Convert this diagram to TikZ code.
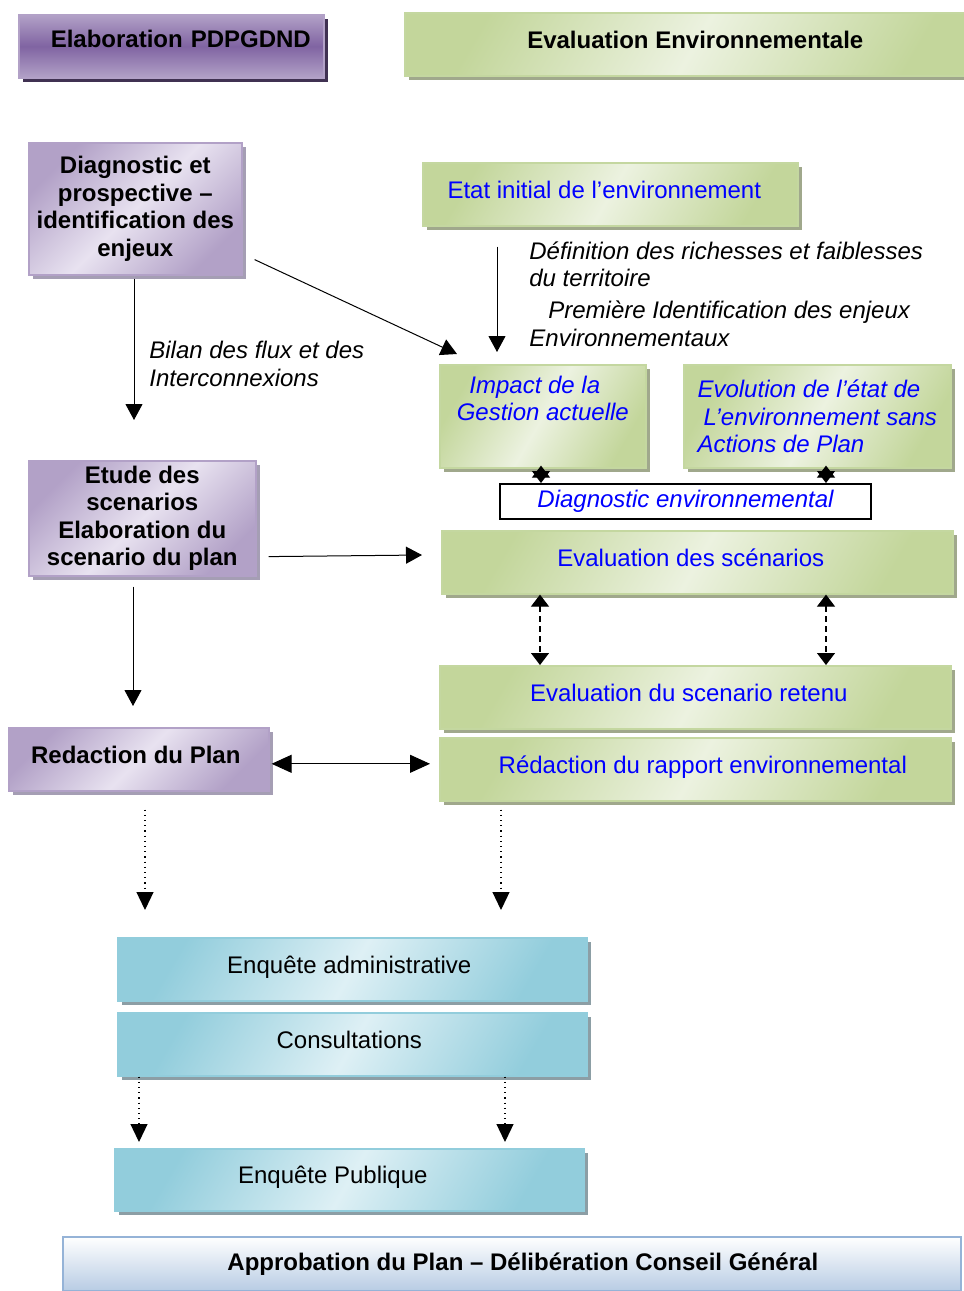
\documentclass[tikz,border=0pt]{standalone}
\usepackage{fontspec}
\setmainfont{Liberation Sans}
\usetikzlibrary{arrows.meta,shadows}

\definecolor{gdark}{RGB}{195,214,155}
\definecolor{glight}{RGB}{236,242,224}
\definecolor{gborder}{RGB}{196,215,160}
\definecolor{gshade}{RGB}{160,168,140}
\definecolor{pdark}{RGB}{128,100,162}
\definecolor{plight}{RGB}{178,161,199}
\definecolor{ppale}{RGB}{232,226,240}
\definecolor{pshade}{RGB}{64,49,82}
\definecolor{pgrey}{RGB}{165,158,180}
\definecolor{bdark}{RGB}{146,205,220}
\definecolor{blight}{RGB}{222,240,245}
\definecolor{bshade}{RGB}{140,158,165}
\definecolor{abord}{RGB}{149,179,215}
\definecolor{abot}{RGB}{184,204,228}
\definecolor{fblue}{RGB}{0,0,255}

\tikzset{
  boxbase/.style={anchor=north west, inner sep=0pt, align=center,
                  font=\fontsize{12}{13.8}\selectfont},
  oneline/.style={text height=8.8pt, text depth=5pt},
  envbox/.style={boxbase, draw=gborder, line width=0.8pt,
                 top color=gdark, bottom color=gdark, middle color=glight, shading angle=60,
                 drop shadow={shadow xshift=2pt, shadow yshift=-2pt, fill=gshade, opacity=1},
                 text=fblue},
  titlebox/.style={boxbase, draw=plight, line width=0.8pt,
                   top color=plight, bottom color=plight, middle color=pdark,
                   drop shadow={shadow xshift=2pt, shadow yshift=-2pt, fill=pshade, opacity=1},
                   font=\fontsize{12}{13.8}\selectfont\bfseries},
  planbox/.style={boxbase, draw=plight, line width=0.8pt,
                  top color=plight, bottom color=plight, middle color=ppale, shading angle=45,
                  drop shadow={shadow xshift=2pt, shadow yshift=-2pt, fill=pgrey, opacity=1},
                  font=\fontsize{12}{13.8}\selectfont\bfseries},
  consbox/.style={boxbase, draw=bdark, line width=0.8pt,
                  top color=bdark, bottom color=bdark, middle color=blight, shading angle=60,
                  drop shadow={shadow xshift=2pt, shadow yshift=-2pt, fill=bshade, opacity=1}},
  note/.style={anchor=west, inner sep=0pt, align=left,
               font=\fontsize{12}{13.8}\selectfont\itshape},
  arr/.style={-{Triangle[width=8.5pt,length=8pt]}, line width=0.5pt},
  dblarr/.style={{Triangle[width=9pt,length=10pt]}-{Triangle[width=9pt,length=10pt]}, line width=0.5pt},
  dasharr/.style={{Triangle[width=9pt,length=6pt]}-{Triangle[width=9pt,length=6pt]},
                  dash pattern=on 3pt off 2pt, line width=0.6pt},
  dotarr/.style={-{Triangle[width=8.5pt,length=9pt]}, dotted, line width=0.6pt},
  stararr/.style={{Triangle[width=9pt,length=6pt]}-{Triangle[width=9pt,length=6pt]}, line width=0.5pt}
}

\begin{document}
\begin{tikzpicture}[x=0.5pt, y=-0.5pt]

        \useasboundingbox (0,0) rectangle (964,1291);

        %Headers
        \node [titlebox, text width=139.5pt, inner xsep=6.5pt, align=right,
               minimum height=31.5pt, text height=8.8pt, text depth=7.5pt]
               (elab) at (18,14) {Elaboration PDPGDND};
        \node [envbox, oneline, text=black, font=\fontsize{12}{13.8}\selectfont\bfseries,
               minimum width=290.5pt, minimum height=31.5pt]
               (evalenv) at (404,12) {Evaluation Environnementale};

        %Plan column
        \node [planbox, minimum width=106.5pt, minimum height=66pt]
               (diag) at (28,142) {Diagnostic et\\prospective --\\identification des\\enjeux};
        \node [planbox, minimum width=113.5pt, minimum height=57.5pt]
               (etude) at (28,460) {Etude des\\scenarios\\Elaboration du\\scenario du plan};
        \node [planbox, oneline, minimum width=130pt, minimum height=31.5pt]
               (redac) at (8,727) {Redaction du Plan\hspace*{3pt}};

        %Environment column
        \node [envbox, oneline, minimum width=187.5pt, minimum height=31.5pt]
               (etat) at (422,162) {Etat initial de l’environnement\hspace*{6pt}};
        \node [envbox, font=\fontsize{12}{13.8}\selectfont\itshape,
               minimum width=103pt, minimum height=51.5pt]
               (impact) at (439,364) {Impact de la\hspace*{8pt}\\Gestion actuelle\hspace*{8pt}\\\strut};
        \node [envbox, align=left, font=\fontsize{12}{13.8}\selectfont\itshape,
               minimum width=133.5pt, minimum height=51.5pt]
               (evol) at (683,364) {Evolution de l’état de\\\hspace*{3pt}L’environnement sans\\Actions de Plan};
        \node [boxbase, draw=black, line width=1pt, fill=white, text=fblue,
               font=\fontsize{12}{13.8}\selectfont\itshape,
               minimum width=185.5pt, minimum height=17.5pt]
               (diagenv) at (499,483) {Diagnostic environnemental};
        \node [envbox, oneline, minimum width=255.5pt, minimum height=31.5pt]
               (evalsc) at (441,530) {Evaluation des scénarios\hspace*{6.5pt}};
        \node [envbox, oneline, minimum width=255.5pt, minimum height=31.5pt]
               (retenu) at (439,665) {Evaluation du scenario retenu\hspace*{6.5pt}};
        \node [envbox, oneline, minimum width=255.5pt, minimum height=31.5pt]
               (rapport) at (439,737) {\hspace*{7.5pt}Rédaction du rapport environnemental};

        %Notes
        \node [note] (defn) at (529,294) {Définition des richesses et faiblesses\\du territoire\\[2pt]\hspace*{9.5pt}Première Identification des enjeux\\Environnementaux};
        \node [note] (bilan) at (149,364) {Bilan des flux et des\\Interconnexions};

        %Consultation
        \node [consbox, oneline, minimum width=234.5pt, minimum height=31.5pt]
               (enqadm) at (117,937) {Enquête administrative\hspace*{3pt}};
        \node [consbox, oneline, minimum width=234.5pt, minimum height=31.5pt]
               (consult) at (117,1012) {Consultations\hspace*{3pt}};
        \node [consbox, oneline, minimum width=234.5pt, minimum height=31pt]
               (enqpub) at (114,1148) {Enquête Publique\hspace*{16.5pt}};
        \node [boxbase, draw=abord, line width=0.8pt, top color=white, bottom color=abot,
               font=\fontsize{12}{13.8}\selectfont\bfseries,
               minimum width=449pt, minimum height=27pt]
               (approb) at (62,1236) {\hspace*{11pt}Approbation du Plan -- Délibération Conseil Général};

        %Arrows
        \draw [arr]     ([shift={(106,3)}]diag.south west)    -- ([shift={(106,-40)}]etude.north west);
        \draw [arr]     ([shift={(12,-16)}]diag.south east)   -- ([shift={(18,-10)}]impact.north west);
        \draw [arr]     ([shift={(75,20)}]etat.south west)    -- ([shift={(58,-12)}]impact.north west);
        \draw [stararr] ([shift={(102,-3)}]impact.south west) -- ([shift={(42,0)}]diagenv.north west);
        \draw [stararr] ([shift={(143,-3)}]evol.south west)   -- ([shift={(327,0)}]diagenv.north west);
        \draw [arr]     ([shift={(12,-20)}]etude.south east)  -- ([shift={(-19,25)}]evalsc.north west);
        \draw [dasharr] ([shift={(99,0)}]evalsc.south west)   -- ([shift={(101,0)}]retenu.north west);
        \draw [dasharr] ([shift={(385,0)}]evalsc.south west)  -- ([shift={(387,0)}]retenu.north west);
        \draw [arr]     ([shift={(105,10)}]etude.south west)  -- ([shift={(125,-21)}]redac.north west);
        \draw [dblarr]  ([shift={(2,4.5)}]redac.east)         -- ([shift={(-9,-5.5)}]rapport.west);
        \draw [dotarr]  ([shift={(137,18)}]redac.south west)  -- ([shift={(28,-27)}]enqadm.north west);
        \draw [dotarr]  ([shift={(62,8)}]rapport.south west)  -- ([shift={(384,-27)}]enqadm.north west);
        \draw [dotarr]  ([shift={(22,0)}]consult.south west)  -- ([shift={(25,-6)}]enqpub.north west);
        \draw [dotarr]  ([shift={(388,0)}]consult.south west) -- ([shift={(391,-6)}]enqpub.north west);

\end{tikzpicture}
\end{document}
